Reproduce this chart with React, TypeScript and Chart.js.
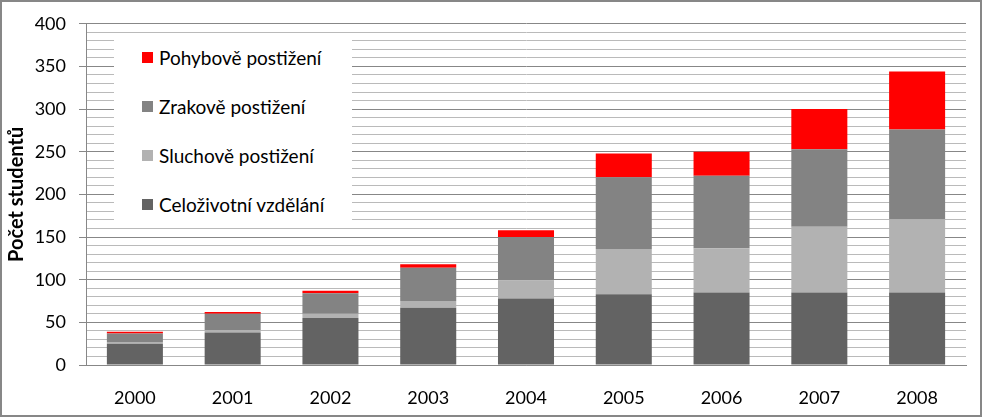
import React, { useEffect, useRef } from "react";
import { Chart, registerables } from "chart.js";

Chart.register(...registerables);

const years = ["2000", "2001", "2002", "2003", "2004", "2005", "2006", "2007", "2008"];
const celozivotni = [25, 38, 55, 67, 78, 83, 85, 85, 85];
const sluchove = [2, 3, 5, 8, 21, 53, 52, 77, 86];
const zrakove = [10, 19, 24, 39, 51, 84, 85, 91, 105];
const pohybove = [2, 2, 3, 4, 8, 28, 28, 47, 68];

const seriesNames = ["Celoživotní vzdělání", "Sluchově postižení", "Zrakově postižení", "Pohybově postižení"];
const seriesColors = ["#636363", "#b2b2b2", "#838383", "#ff0000"];
const seriesData = [celozivotni, sluchove, zrakove, pohybove];

const yTitle = "Počet studentů";
const FONT = "Lato, 'Open Sans', sans-serif";
const MAJOR = "#878787";
const MINOR = "#bababa";

export default function App() {
  const ref = useRef<HTMLCanvasElement | null>(null);

  useEffect(() => {
    if (!ref.current) return;
    const chart = new Chart(ref.current, {
      type: "bar",
      data: {
        labels: years,
        datasets: seriesData.map((d, i) => ({
          label: seriesNames[i],
          data: d,
          backgroundColor: seriesColors[i],
          borderWidth: 0,
          categoryPercentage: 1,
          barPercentage: 0.573,
        })),
      },
      options: {
        animation: false,
        responsive: false,
        layout: { padding: { left: 0, top: 23, right: 17, bottom: 0 } },
        plugins: { legend: { display: false }, tooltip: { enabled: false } },
        scales: {
          x: {
            stacked: true,
            grid: { display: false },
            border: { display: true, color: MAJOR, width: 1 },
            ticks: { color: "#000", font: { family: FONT, size: 18 }, padding: 14, maxRotation: 0 },
            afterFit: (s: any) => { s.height = 53; },
          },
          y: {
            stacked: true,
            min: 0,
            max: 400,
            grid: {
              color: (c: any) => (c.tick && c.tick.value % 50 === 0 ? MAJOR : MINOR),
              tickColor: (c: any) => (c.tick && c.tick.value % 50 === 0 ? MAJOR : "transparent"),
              tickLength: 7,
              lineWidth: 1,
            },
            border: { display: true, color: MAJOR, width: 1 },
            ticks: {
              stepSize: 10,
              maxTicksLimit: 41,
              autoSkip: false,
              padding: 13,
              color: "#000",
              font: { family: FONT, size: 18 },
              callback: (v: any) => (Number(v) % 50 === 0 ? String(v) : ""),
            },
            title: {
              display: true,
              text: yTitle,
              color: "#000",
              font: { family: FONT, size: 20, weight: "bold" },
              padding: { top: 5, bottom: 0 },
            },
            afterFit: (s: any) => { s.width = 86; },
          },
        },
      },
    });
    return () => chart.destroy();
  }, []);

  const legendOrder = [3, 2, 1, 0];

  return (
    <div style={{ position: "fixed", left: 0, top: 0, width: 983, height: 418, background: "#fff" }}>
      <canvas ref={ref} width={983} height={418} style={{ position: "absolute", left: 0, top: 0, width: 983, height: 418 }} />
      <div
        style={{
          position: "absolute",
          left: 114,
          top: 34,
          width: 238,
          height: 192,
          background: "#fff",
          fontFamily: FONT,
          fontSize: 19,
          color: "#000",
        }}
      >
        {legendOrder.map((idx) => (
          <div key={idx} style={{ height: 49, marginTop: idx === 3 ? -1 : 0, display: "flex", alignItems: "center", paddingLeft: 28 }}>
            <span style={{ display: "inline-block", width: 11, height: 11, background: seriesColors[idx], marginRight: 6 }} />
            <span style={{ whiteSpace: "nowrap" }}>{seriesNames[idx]}</span>
          </div>
        ))}
      </div>
      <div
        style={{
          position: "absolute",
          left: 0,
          top: 0,
          width: 982,
          height: 417,
          boxSizing: "border-box",
          border: "2px solid #878787",
          pointerEvents: "none",
        }}
      />
    </div>
  );
}
